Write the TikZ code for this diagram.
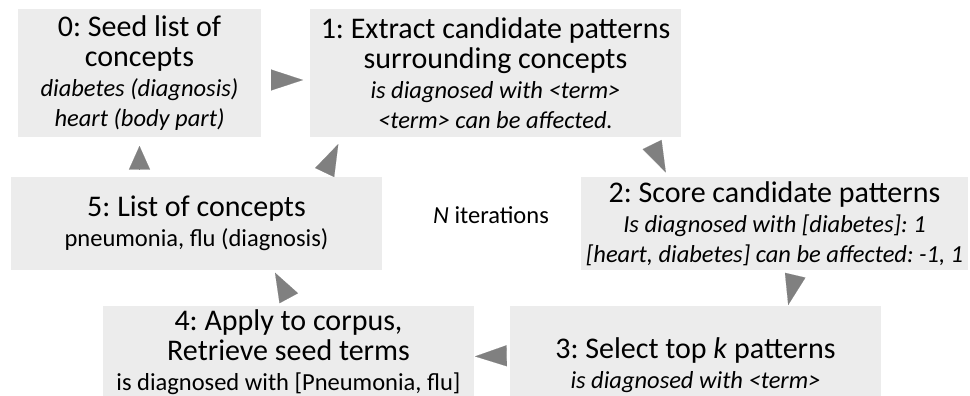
\documentclass[tikz,border=0pt]{standalone}
\usepackage{fontspec}
\setmainfont{Carlito}
\usetikzlibrary{arrows.meta}
\definecolor{boxfill}{HTML}{ECECEC}
\definecolor{arrgray}{HTML}{808080}
\newcommand\subsz{\fontsize{24.5}{26.8}\selectfont}
\newcommand\subit{\fontsize{24.5}{26.8}\selectfont\itshape}
\frenchspacing
\tikzset{
  box/.style={fill=boxfill, draw=none, align=center, inner sep=0pt,
    font=\fontsize{30}{30}\selectfont\frenchspacing},
  arr/.style={draw=arrgray, fill=arrgray, line width=0.1pt,
    -{Triangle[length=#1, width=21pt]}},
}
\begin{document}
\begin{tikzpicture}[x=1pt,y=-1pt]
\useasboundingbox (0,0) rectangle (970,396);
% boxes
\node[box, minimum width=243pt, minimum height=128pt] (b0) at (139.5,73)
  {0: Seed list of\\concepts\\\subit diabetes (diagnosis)\\\subit heart (body part)};
\node[box, minimum width=371pt, minimum height=128pt] (b1) at (495.5,73)
  {1: Extract candidate patterns\\surrounding concepts\\\subit is diagnosed with <term>\\\subit <term> can be affected.};
\node[box, minimum width=387pt, minimum height=93pt] (b2) at (774.5,223.5)
  {2: Score candidate patterns\\\subit Is diagnosed with [diabetes]: 1\\\subit [heart, diabetes] can be affected: -1, 1};
\node[box, minimum width=371pt, minimum height=118pt] (b3) at (695.5,365)
  {3: Select top \textit{k} patterns\\\subit is diagnosed with <term>};
\node[box, minimum width=371pt, minimum height=92pt] (b4) at (288.5,352)
  {4: Apply to corpus,\\Retrieve seed terms\\\subsz is diagnosed with [Pneumonia, flu]};
\node[box, minimum width=371pt, minimum height=93pt] (b5) at (196.5,223.5)
  {5: List of concepts\\\subsz pneumonia, flu (diagnosis)};
\node[font=\subsz, inner sep=0pt] (iter) at (491,215) {\textit{N} iterations};
% arrow heads (connector ends)
\coordinate (a01s) at (271,80);      \coordinate (a01e) at (303,80);
\coordinate (a50s) at (139.5,169.5); \coordinate (a50e) at (139.5,146);
\coordinate (a51s) at (324.7,172.5); \coordinate (a51e) at (338.3,144);
\coordinate (a12s) at (652.2,144.7); \coordinate (a12e) at (665.8,172.4);
\coordinate (a23s) at (795.2,275.2); \coordinate (a23e) at (788.2,305);
\coordinate (a34s) at (506.7,355.8); \coordinate (a34e) at (475,356.4);
\coordinate (a45s) at (288.8,298.3); \coordinate (a45e) at (275,272.7);
\draw[arr=32pt] (a01s) -- (a01e);
\draw[arr=23.5pt] (a50s) -- (a50e);
\draw[arr=31.6pt] (a51s) -- (a51e);
\draw[arr=31pt] (a12s) -- (a12e);
\draw[arr=30.6pt] (a23s) -- (a23e);
\draw[arr=31.7pt] (a34s) -- (a34e);
\draw[arr=29pt] (a45s) -- (a45e);
\end{tikzpicture}
\end{document}
